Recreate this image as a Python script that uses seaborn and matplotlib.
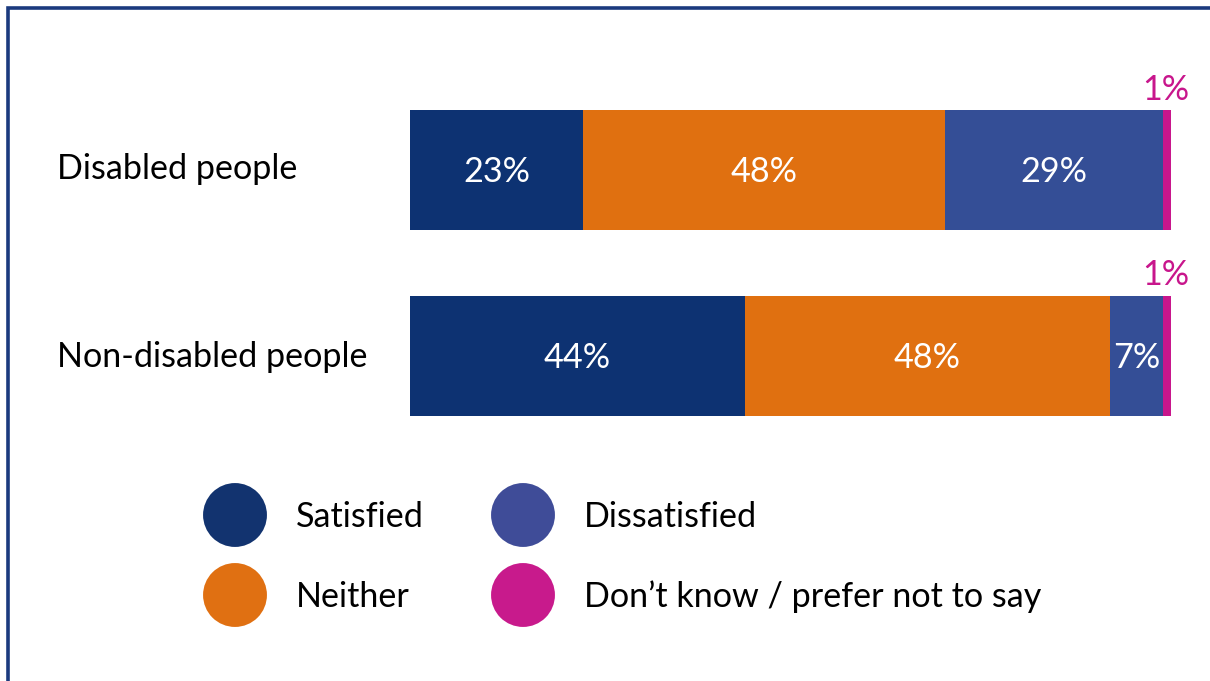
import matplotlib
matplotlib.use("Agg")
import matplotlib.pyplot as plt
from matplotlib.patches import Rectangle
import seaborn as sns
import pandas as pd
import numpy as np

# Survey responses by group (percent)
groups = ["Disabled people", "Non-disabled people"]
responses = ["Satisfied", "Neither", "Dissatisfied", "Don\u2019t know / prefer not to say"]
satisfied = [23, 44]
neither = [48, 48]
dissatisfied = [29, 7]
dont_know = [1, 1]

colors = ["#0D3272", "#E07010", "#344E96", "#C8168C"]
legend_colors = ["#12336F", "#E07012", "#3F4C98", "#C81A8C"]

sns.set_theme(style="white")
plt.rcParams["font.family"] = ["Lato", "DejaVu Sans"]

W, H = 1210, 681
fig = plt.figure(figsize=(W / 100, H / 100), dpi=100)

values = np.array([satisfied, neither, dissatisfied, dont_know], dtype=float)
# each row drawn as a 100% stacked bar
shares = values / values.sum(axis=0) * 100
cum = shares.cumsum(axis=0)

bar_w = 120 / 185.5
# Bar area: 0 at 410 px, 100 at 1171 px; bars centred at 170 and 355.5 px
ax = fig.add_axes([410 / W, 1 - 448.25 / H, 761 / W, 371 / H])
for i in range(len(responses) - 1, -1, -1):
    df = pd.DataFrame({"group": groups, "value": cum[i]})
    sns.barplot(data=df, x="value", y="group", orient="h", color=colors[i],
                width=bar_w, saturation=1, ax=ax, linewidth=0)

ax.set_xlim(0, 100)
ax.set_ylim(1.5, -0.5)
ax.axis("off")

fs = 24.6
for g in range(len(groups)):
    starts = np.concatenate([[0], cum[:-1, g]])
    for i in range(len(responses) - 1):
        ax.text(starts[i] + shares[i, g] / 2, g + 0.012, f"{int(values[i, g])}%",
                color="white", fontsize=fs, ha="center", va="center")
    # small "don't know" share labelled above the bar end
    ax.text(starts[-1] + shares[-1, g] / 2 - 0.2, g - bar_w / 2 - 0.055,
            f"{int(values[-1, g])}%", color=colors[3],
            fontsize=fs, ha="center", va="baseline")

# Overlay in pixel coordinates for category labels, legend and frame
ov = fig.add_axes([0, 0, 1, 1])
ov.patch.set_alpha(0)

for g, yc in zip(groups, [169, 357]):
    ov.text(57, yc, g, fontsize=fs, color="black", ha="left", va="center")

leg_pos = [(235, 515), (235, 595), (523, 515), (523, 595)]
leg_df = pd.DataFrame({"x": [p[0] for p in leg_pos], "y": [p[1] for p in leg_pos],
                       "resp": responses})
sns.scatterplot(data=leg_df, x="x", y="y", hue="resp", palette=legend_colors,
                s=46 ** 2, linewidth=0, legend=False, ax=ov)
ov.set_xlim(0, W)
ov.set_ylim(H, 0)
ov.axis("off")
for (x, y), r in zip(leg_pos, responses):
    ov.text(x + 61, y + 2, r, fontsize=fs, color="black", ha="left", va="center")

fig.add_artist(Rectangle((8 / W, -0.2), 1.5, 1.2 - 7.5 / H, transform=fig.transFigure,
                         fill=False, edgecolor="#1B3A7E", linewidth=2.6))

fig.savefig("out.png", dpi=100, facecolor="white")
